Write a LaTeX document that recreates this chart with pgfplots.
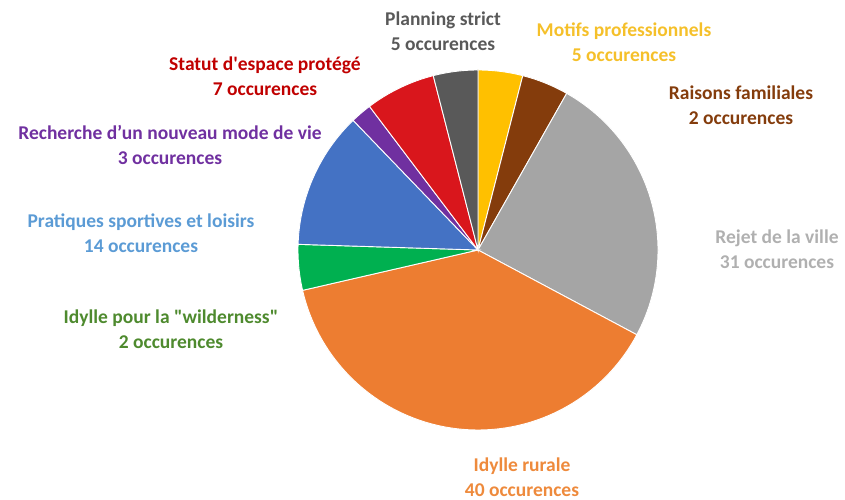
\documentclass[border=0pt]{standalone}
\usepackage{pgfplots}
\pgfplotsset{compat=1.18}
\usepackage{fontspec}
\setmainfont{Carlito}
\newfontfamily\plainfont{Carlito}[Ligatures=TeXOff]
\definecolor{cMot}{HTML}{FFC000}
\definecolor{cRai}{HTML}{843C0C}
\definecolor{cRej}{HTML}{A5A5A5}
\definecolor{cIdy}{HTML}{ED7D31}
\definecolor{cWil}{HTML}{00B050}
\definecolor{cPra}{HTML}{4472C4}
\definecolor{cRec}{HTML}{7030A0}
\definecolor{cSta}{HTML}{D9161C}
\definecolor{cPla}{HTML}{595959}
\definecolor{tMot}{HTML}{F5C02A}
\definecolor{tRai}{HTML}{843C0C}
\definecolor{tRej}{HTML}{B0B0B0}
\definecolor{tIdy}{HTML}{EE8A3C}
\definecolor{tWil}{HTML}{4E8A2E}
\definecolor{tPra}{HTML}{5B9BD5}
\definecolor{tRec}{HTML}{7030A0}
\definecolor{tSta}{HTML}{C00000}
\definecolor{tPla}{HTML}{595959}
\def\astart{90}
\newcommand\slice[2]{%
  \pgfmathsetmacro\aend{\astart-3.6*#1}%
  \edef\doslice{\noexpand\addplot[fill=#2, draw=white, line width=0.9pt, domain=\aend:\astart, samples=80] ({478+180*cos(x)},{250+180*sin(x)}) -- (axis cs:478,250) -- cycle;}%
  \doslice
  \global\let\astart\aend
}
\begin{document}
\begin{tikzpicture}
\begin{axis}[
  scale only axis, width=845pt, height=500pt,
  xmin=0, xmax=845, ymin=0, ymax=500,
  hide axis, clip=false,
]
\path (axis cs:0,0) -- (axis cs:845,500);
% slice values (percent of the pie), clockwise from 12 o'clock
\slice{4.0}{cMot}
\slice{4.2}{cRai}
\slice{24.6}{cRej}
\slice{38.6}{cIdy}
\slice{4.1}{cWil}
\slice{12.3}{cPra}
\slice{1.9}{cRec}
\slice{6.3}{cSta}
\slice{4.0}{cPla}
\tikzset{lab/.style={align=center, font=\fontsize{19.5}{25}\selectfont\bfseries, inner sep=0pt}}
\node[lab, text=tPla] at (axis cs:443,469) {Planning strict\\5 occurences};
\node[lab, text=tMot] at (axis cs:624,457.5) {Motifs professionnels\\5 occurences};
\node[lab, text=tRai] at (axis cs:741,394.5) {Raisons familiales\\2 occurences};
\node[lab, text=tRej] at (axis cs:777,251) {Rejet de la ville\\31 occurences};
\node[lab, text=tIdy] at (axis cs:522,23) {Idylle rurale\\40 occurences};
\node[lab, text=tWil] at (axis cs:171,170.5) {Idylle pour la {\plainfont"}wilderness{\plainfont"}\\2 occurences};
\node[lab, text=tPra] at (axis cs:141,266.5) {Pratiques sportives et loisirs\\14 occurences};
\node[lab, text=tRec] at (axis cs:170,355.5) {Recherche d’un nouveau mode de vie\\3 occurences};
\node[lab, text=tSta] at (axis cs:265,423.5) {Statut d{\plainfont'}espace protégé\\7 occurences};
\end{axis}
\end{tikzpicture}
\end{document}
